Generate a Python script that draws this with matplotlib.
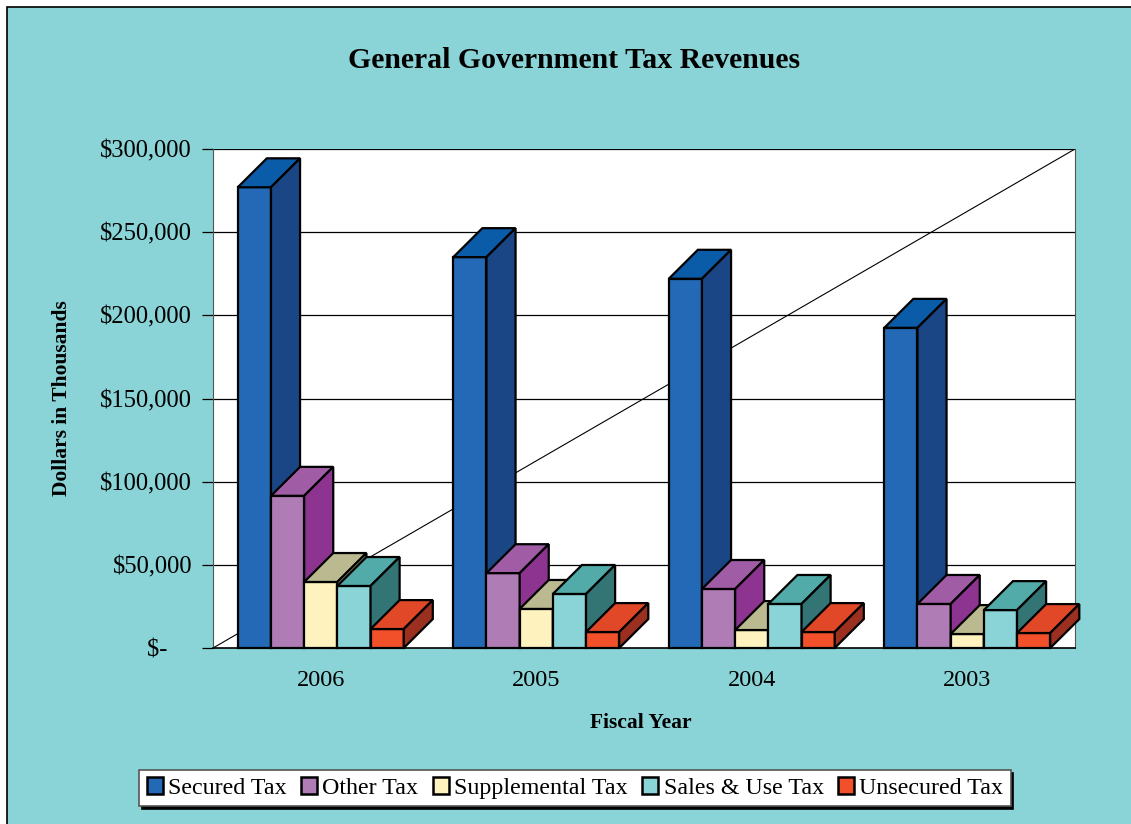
import matplotlib.pyplot as plt
from matplotlib.patches import Polygon, Patch, Rectangle

plt.rcParams['font.family'] = ['Liberation Serif', 'DejaVu Serif']

# data (thousands of dollars)
years = ['2006', '2005', '2004', '2003']
series = ['Secured Tax', 'Other Tax', 'Supplemental Tax', 'Sales & Use Tax', 'Unsecured Tax']
secured = [277000, 235000, 222000, 192500]
other = [91500, 45000, 35500, 26500]
supplemental = [39700, 23500, 10800, 8400]
sales_use = [37300, 32500, 26500, 22800]
unsecured = [11400, 9600, 9600, 9000]
values = [secured, other, supplemental, sales_use, unsecured]
yticks = [0, 50000, 100000, 150000, 200000, 250000, 300000]
ytick_labels = ['$-    ', '$50,000', '$100,000', '$150,000', '$200,000', '$250,000', '$300,000']

# front / top / side colours per series
face_cols = ['#2369B5', '#B07CB5', '#FEF3BE', '#8AD3D6', '#F2502A']
top_cols = ['#0A5CA8', '#A05CA4', '#BAB98F', '#52ABA8', '#E04828']
side_cols = ['#1A4685', '#8C348F', '#9E9C6E', '#337574', '#9C3020']

BG = '#8AD3D6'
W, H = 1131, 824

fig = plt.figure(figsize=(W / 100, H / 100), dpi=100)
fig.patch.set_facecolor('white')
fig.patches.append(Rectangle((7 / W, -0.1), 1.2, 1 - 7 / H + 0.1, transform=fig.transFigure,
                             facecolor=BG, edgecolor='black', lw=1.2, zorder=-10))

ax = fig.add_axes([213 / W, 176 / H, 862 / W, 499 / H])
ax.set_facecolor('white')
ax.set_xlim(0, 4)
ax.set_ylim(0, 300000)

bw = 0.154     # bar width in category units
dx = 0.135     # depth offset x
dy = 17400     # depth offset y

ax.plot([0, 4], [0, 300000], color='black', lw=0.8, zorder=1)
for t in yticks[1:]:
    ax.axhline(t, color='black', lw=0.9, zorder=1)


def bar3d(x0, h, fc, tc, sc):
    x1 = x0 + bw
    front = Polygon([(x0, 0), (x1, 0), (x1, h), (x0, h)])
    top = Polygon([(x0, h), (x1, h), (x1 + dx, h + dy), (x0 + dx, h + dy)])
    side = Polygon([(x1, 0), (x1 + dx, dy), (x1 + dx, h + dy), (x1, h)])
    for p, c in ((front, fc), (top, tc), (side, sc)):
        p.set_facecolor(c)
        p.set_edgecolor('black')
        p.set_linewidth(1.6)
        p.set_joinstyle('miter')
        p.set_clip_on(False)
        p.set_zorder(3)
        ax.add_patch(p)


for i in range(len(years)):
    start = i + 0.5 - 2.5 * bw
    for k in range(len(series)):
        bar3d(start + k * bw, values[k][i], face_cols[k], top_cols[k], side_cols[k])

ax.set_yticks(yticks)
ax.set_yticklabels(ytick_labels, fontsize=17.7)
ax.set_xticks([i + 0.5 for i in range(4)])
ax.set_xticklabels(years, fontsize=17.5)
ax.tick_params(axis='y', length=8, width=0.9, pad=7)
ax.tick_params(axis='x', length=0, pad=16)
ax.spines['top'].set_visible(False)
ax.spines['left'].set_color('#555555')
ax.spines['right'].set_color('#555555')
ax.spines['bottom'].set_linewidth(1.2)

fig.text(574 / W, 1 - 61 / H, 'General Government Tax Revenues', ha='center', va='center',
         fontsize=21.4, fontweight='bold')
fig.text(641 / W, 1 - 723 / H, 'Fiscal Year', ha='center', va='center', fontsize=15.5,
         fontweight='bold')
fig.text(62 / W, 1 - 398 / H, 'Dollars in Thousands', ha='center', va='center', fontsize=15.5,
         fontweight='bold', rotation=90)

handles = [Patch(facecolor=c, edgecolor='black', lw=1.8) for c in face_cols]
leg = fig.legend(handles, series, loc='center', bbox_to_anchor=(575 / W, 1 - 788 / H), ncol=5,
                 fontsize=17.3, frameon=True, fancybox=False, shadow={'color': 'black', 'alpha': 1},
                 handlelength=0.67, handleheight=0.67, handletextpad=0.22, columnspacing=0.6,
                 borderpad=0.3, borderaxespad=0)
leg.get_frame().set_edgecolor('#555555')
leg.get_frame().set_linewidth(1.2)

fig.savefig('out.png', dpi=100, facecolor=fig.get_facecolor())
